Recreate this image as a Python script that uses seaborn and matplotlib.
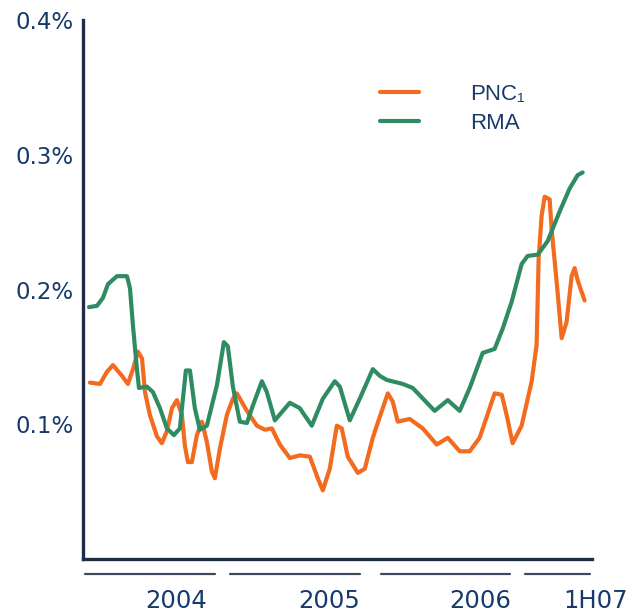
import numpy as np
import pandas as pd
import matplotlib
matplotlib.use("Agg")
import matplotlib.pyplot as plt
import seaborn as sns
from matplotlib.font_manager import FontProperties
from matplotlib.lines import Line2D

# Months since Jan 2004, values in %
rma_month = [0.25, 0.92, 1.42, 1.83, 2.58, 3.42, 3.67, 3.92, 4.25, 4.42, 5.08, 5.58, 6.17, 6.75,
             7.33, 7.83, 8.33, 8.67, 9.08, 9.5, 10.08, 10.92, 11.5, 11.83, 12.25, 12.83, 13.42,
             13.92, 14.67, 15.08, 15.75, 17.0, 17.83, 18.83, 19.75, 20.75, 21.17, 22.0, 22.83,
             23.92, 24.5, 25.08, 26.42, 27.25, 29.08, 30.17, 31.17, 32.0, 33.08, 34.08, 34.75,
             35.5, 36.33, 36.83, 37.67, 38.5, 39.5, 40.33, 41.0, 41.42]
rma = [0.187, 0.188, 0.194, 0.204, 0.210, 0.210, 0.201, 0.173, 0.141, 0.127, 0.128, 0.124, 0.112,
       0.097, 0.092, 0.097, 0.140, 0.140, 0.112, 0.096, 0.099, 0.129, 0.161, 0.158, 0.128, 0.102,
       0.101, 0.114, 0.132, 0.124, 0.103, 0.116, 0.112, 0.099, 0.119, 0.132, 0.128, 0.103, 0.119,
       0.141, 0.136, 0.133, 0.130, 0.127, 0.110, 0.118, 0.110, 0.127, 0.153, 0.156, 0.171, 0.191,
       0.219, 0.225, 0.226, 0.236, 0.258, 0.275, 0.285, 0.287]

pnc_month = [0.33, 1.17, 1.75, 2.25, 3.0, 3.5, 3.92, 4.33, 4.67, 4.92, 5.33, 5.92, 6.33, 6.75,
             7.17, 7.58, 8.0, 8.25, 8.5, 8.83, 9.25, 9.67, 10.08, 10.5, 10.75, 11.17, 11.75, 12.25,
             12.58, 13.42, 14.25, 14.92, 15.5, 16.17, 17.0, 17.83, 18.67, 19.33, 19.75, 20.33,
             20.92, 21.33, 21.83, 22.67, 23.25, 23.92, 24.25, 25.17, 25.58, 26.0, 27.0, 28.08,
             29.25, 30.17, 31.17, 32.0, 32.83, 34.08, 34.67, 35.08, 35.58, 36.33, 37.17, 37.58,
             37.75, 38.0, 38.25, 38.67, 38.83, 39.25, 39.67, 40.08, 40.5, 40.75, 41.0, 41.58]
pnc = [0.131, 0.130, 0.139, 0.144, 0.136, 0.130, 0.141, 0.154, 0.149, 0.124, 0.107, 0.091, 0.086,
       0.095, 0.112, 0.118, 0.107, 0.084, 0.072, 0.072, 0.092, 0.102, 0.087, 0.065, 0.060, 0.082,
       0.107, 0.119, 0.123, 0.110, 0.099, 0.096, 0.097, 0.085, 0.075, 0.077, 0.076, 0.060, 0.051,
       0.067, 0.099, 0.097, 0.076, 0.064, 0.067, 0.090, 0.099, 0.123, 0.117, 0.102, 0.104, 0.097,
       0.085, 0.090, 0.080, 0.080, 0.090, 0.123, 0.122, 0.107, 0.086, 0.099, 0.132, 0.159, 0.223,
       0.255, 0.269, 0.267, 0.245, 0.206, 0.164, 0.176, 0.210, 0.216, 0.207, 0.192]

y_ticks = [0.1, 0.2, 0.3, 0.4]
y_labels = ["0.1%", "0.2%", "0.3%", "0.4%"]

periods = ["2004", "2005", "2006", "1H07"]
period_spans = [(-0.08, 10.75), (12.0, 22.83), (24.58, 35.33), (36.58, 42.0)]
period_label_pos = [7.5, 20.25, 32.9, 42.5]

df = pd.concat([
    pd.DataFrame({"month": pnc_month, "value": pnc, "series": "PNC\u2081"}),
    pd.DataFrame({"month": rma_month, "value": rma, "series": "RMA"}),
])

sns.set_style("white")
plt.rcParams["font.family"] = ["DejaVu Sans"]

navy = "#173a6a"
spine_col = "#1c2d45"
palette = {"PNC\u2081": "#f26b1f", "RMA": "#2f8c62"}

fig = plt.figure(figsize=(6.31, 6.13), dpi=100)
ax = fig.add_axes([0.1315, 0.088, 0.8067, 0.879])

sns.lineplot(data=df, x="month", y="value", hue="series", palette=palette,
             estimator=None, linewidth=3.0, ax=ax, legend=False)
for ln in ax.get_lines():
    ln.set_solid_joinstyle("round")
    ln.set_solid_capstyle("round")

ax.set_xlim(-0.25, 42.2)
ax.set_ylim(0, 0.4)
ax.set_yticks(y_ticks)
ax.set_yticklabels(y_labels)
ax.set_xticks([])
ax.set_xlabel("")
ax.set_ylabel("")
ax.tick_params(axis="y", direction="in", length=6, width=2.2, color=spine_col,
               labelsize=16.5, labelcolor=navy, pad=7)

for side in ["top", "right"]:
    ax.spines[side].set_visible(False)
for side in ["left", "bottom"]:
    ax.spines[side].set_color(spine_col)
    ax.spines[side].set_linewidth(2.4)

# period bars and labels under the axis
tr = ax.get_xaxis_transform()
for name, (a, b), pos in zip(periods, period_spans, period_label_pos):
    ax.plot([a, b], [-0.028, -0.028], transform=tr, color="#3e4a5c", linewidth=1.6, clip_on=False)
    ax.text(pos, -0.078, name, transform=tr, ha="center", va="center",
            fontsize=17.5, color=navy, clip_on=False)

# legend
handles = [Line2D([], [], color=palette[k], linewidth=3.0) for k in ["PNC\u2081", "RMA"]]
leg = ax.legend(handles, ["PNC\u2081", "RMA"], loc="upper left",
                bbox_to_anchor=(380 / 631, 1 - 84 / 613), bbox_transform=fig.transFigure,
                frameon=False, handlelength=1.75, handletextpad=2.3, labelspacing=0.35,
                borderpad=0, borderaxespad=0,
                prop=FontProperties(family=["Liberation Sans", "DejaVu Sans"], size=16))
for t in leg.get_texts():
    t.set_color(navy)

fig.savefig("out.png", dpi=100)
